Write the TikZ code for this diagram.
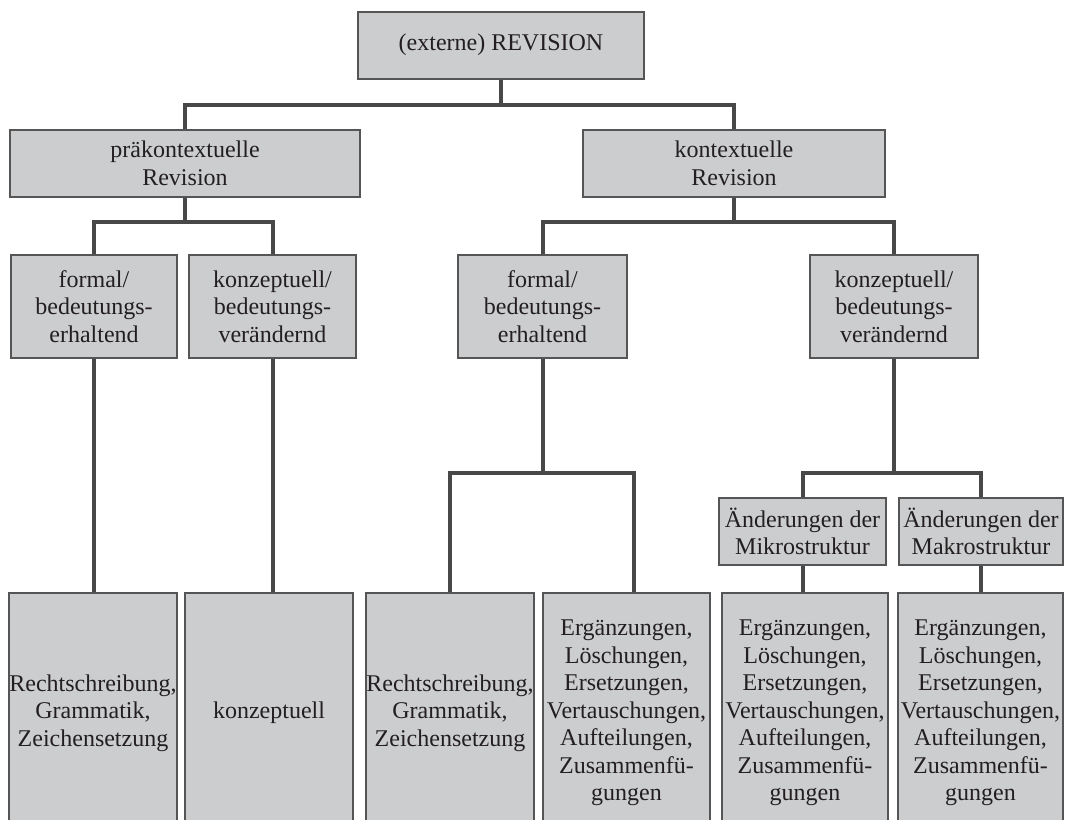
\documentclass[tikz,border=0pt]{standalone}
\usepackage{fontspec}
\setmainfont{Liberation Serif}
\usepackage{tikz}
\usetikzlibrary{positioning}
\definecolor{boxgray}{RGB}{204,205,207}
\definecolor{boxline}{RGB}{85,85,85}
\definecolor{linkgray}{RGB}{72,72,72}
\definecolor{textgray}{RGB}{35,31,32}
\tikzset{
    basic/.style  = {draw=boxline, fill=boxgray, rectangle, line width=2pt, inner sep=0pt,
                     align=center, text=textgray, font=\fontsize{24}{27.5}\selectfont},
    head/.style   = {basic, minimum height=67pt},
    kind/.style   = {basic, minimum height=103pt},
    part/.style   = {basic, minimum height=67pt},
    leaf/.style   = {basic, minimum height=240pt},
    link/.style   = {draw=linkgray, line width=4pt}
}
\begin{document}
\begin{tikzpicture}[x=1pt, y=-1pt]
    \clip (0,0) rectangle (1067,819);
    \fill[white] (0,0) rectangle (1067,819);
    % top
    \node[head, minimum width=286pt] (rev) at (501,45) {(externe) REVISION};
    \node[head, minimum width=350pt] (prae) at (185,163.5) {präkontextuelle\\Revision};
    \node[head, minimum width=302pt] (kont) at (734,163.5) {kontextuelle\\Revision};
    % level 2
    \node[kind, minimum width=166pt] (pform) at (94,306.5) {formal/\\bedeutungs-\\erhaltend};
    \node[kind, minimum width=167pt] (pkonz) at (272.5,306.5) {konzeptuell/\\bedeutungs-\\verändernd};
    \node[kind, minimum width=169pt] (kform) at (542.5,306.5) {formal/\\bedeutungs-\\erhaltend};
    \node[kind, minimum width=168pt] (kkonz) at (894,306.5) {konzeptuell/\\bedeutungs-\\verändernd};
    % level 3
    \node[part, minimum width=167pt] (mikro) at (802.5,531.5) {Änderungen der\\Mikrostruktur};
    \node[part, minimum width=164pt] (makro) at (981,531.5) {Änderungen der\\Makrostruktur};
    % leaves
    \node[leaf, minimum width=168pt] (l1) at (93,713) {Rechtschreibung,\\Grammatik,\\Zeichensetzung};
    \node[leaf, minimum width=168pt] (l2) at (269,713) {konzeptuell};
    \node[leaf, minimum width=166pt] (l3) at (450,713) {Rechtschreibung,\\Grammatik,\\Zeichensetzung};
    \node[leaf, minimum width=167pt] (l4) at (626.5,713) {Ergänzungen,\\Löschungen,\\Ersetzungen,\\Vertauschungen,\\Aufteilungen,\\Zusammenfü-\\gungen};
    \node[leaf, minimum width=166pt] (l5) at (805,713) {Ergänzungen,\\Löschungen,\\Ersetzungen,\\Vertauschungen,\\Aufteilungen,\\Zusammenfü-\\gungen};
    \node[leaf, minimum width=165pt] (l6) at (980.5,713) {Ergänzungen,\\Löschungen,\\Ersetzungen,\\Vertauschungen,\\Aufteilungen,\\Zusammenfü-\\gungen};
    % junctions
    \coordinate (j1) at (0,105);
    \coordinate (j2) at (0,222);
    \coordinate (j3) at (0,473);
    % connectors
    \draw[link] (rev.south) -- (rev.south |- j1);
    \draw[link] (prae.north) -- (prae.north |- j1) -- (kont.north |- j1) -- (kont.north);
    \draw[link] (prae.south) -- (prae.south |- j2);
    \draw[link] (pform.north) -- (pform.north |- j2) -- (pkonz.north |- j2) -- (pkonz.north);
    \draw[link] (kont.south) -- (kont.south |- j2);
    \draw[link] (kform.north) -- (kform.north |- j2) -- (kkonz.north |- j2) -- (kkonz.north);
    \draw[link] (pform.south) -- (pform.south |- l1.north);
    \draw[link] (pkonz.south) -- (pkonz.south |- l2.north);
    \draw[link] (kform.south) -- (kform.south |- j3);
    \draw[link] (l3.north) -- (l3.north |- j3) -- ([xshift=7pt]l4.north |- j3) -- ([xshift=7pt]l4.north);
    \draw[link] (kkonz.south) -- (kkonz.south |- j3);
    \draw[link] (mikro.north) -- (mikro.north |- j3) -- (makro.north |- j3) -- (makro.north);
    \draw[link] (mikro.south) -- (mikro.south |- l5.north);
    \draw[link] (makro.south) -- (makro.south |- l6.north);
\end{tikzpicture}
\end{document}
